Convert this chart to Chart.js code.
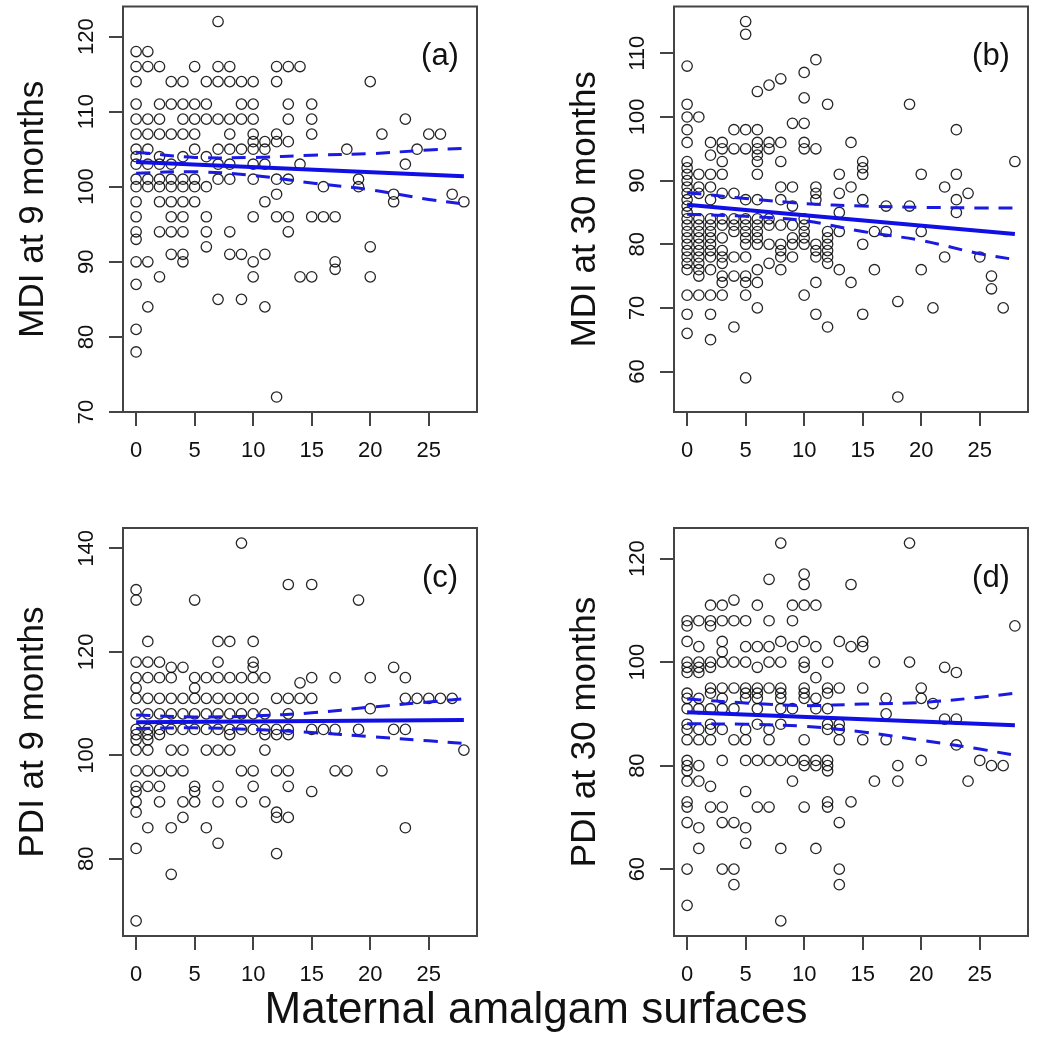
<!DOCTYPE html>
<html>
<head>
<meta charset="utf-8">
<title>Maternal amalgam surfaces vs MDI / PDI</title>
<script src="https://cdn.jsdelivr.net/npm/chart.js@4.4.0/dist/chart.umd.min.js"></script>
<style>
  body { margin: 0; background: #fff; width: 1042px; height: 1050px; position: relative; overflow: hidden; }
  canvas { position: absolute; }
  #xtitle {
    position: absolute; left: 536px; top: 986px; transform: translateX(-50%);
    font-family: 'Liberation Sans', Arial, sans-serif; font-size: 44px; line-height: 1;
    color: #111; white-space: nowrap;
  }
</style>
</head>
<body>
<canvas id="panelA" width="521" height="480" style="left:0;top:0"></canvas>
<canvas id="panelB" width="502" height="480" style="left:540px;top:0"></canvas>
<canvas id="panelC" width="521" height="490" style="left:0;top:500px"></canvas>
<canvas id="panelD" width="502" height="490" style="left:540px;top:500px"></canvas>
<div id="xtitle">Maternal amalgam surfaces</div>
<script>
// Données : [score, [surfaces amalgame ...]]
const mdi9Rows = [
    [122, [7]],
    [118, [0, 1]],
    [116, [0, 1, 2, 5, 7, 8, 12, 13, 14]],
    [114, [0, 3, 4, 6, 7, 8, 9, 10, 12, 20]],
    [111, [0, 2, 3, 4, 5, 6, 9, 10, 13, 15]],
    [109, [0, 1, 2, 4, 5, 6, 7, 8, 9, 10, 13, 15, 23]],
    [107, [0, 1, 2, 3, 4, 5, 8, 10, 12, 15, 21, 25, 26]],
    [106, [10, 11, 12, 13]],
    [105, [0, 1, 5, 7, 8, 9, 10, 11, 18, 24]],
    [104, [0, 2, 4, 6]],
    [103, [0, 1, 2, 3, 7, 8, 10, 11, 14, 23]],
    [101, [0, 1, 2, 3, 4, 5, 7, 8, 10, 12, 13, 19]],
    [100, [0, 1, 2, 3, 4, 5, 6, 16, 19]],
    [99, [12, 22, 27]],
    [98, [0, 2, 3, 4, 5, 11, 22, 28]],
    [96, [0, 3, 4, 6, 10, 12, 13, 15, 16, 17]],
    [94, [0, 2, 3, 4, 6, 8, 13]],
    [93, [0]],
    [92, [6, 20]],
    [91, [3, 4, 8, 9, 11]],
    [90, [0, 1, 4, 10, 17]],
    [89, [17]],
    [88, [2, 10, 14, 15, 20]],
    [87, [0]],
    [85, [7, 9]],
    [84, [1, 11]],
    [81, [0]],
    [78, [0]],
    [72, [12]]
];

const mdi30Rows = [
    [115, [5]],
    [113, [5]],
    [109, [11]],
    [108, [0]],
    [107, [10]],
    [106, [8]],
    [105, [7]],
    [104, [6]],
    [103, [10]],
    [102, [0, 12, 19]],
    [100, [0, 1]],
    [99, [9, 10]],
    [98, [0, 4, 5, 6, 23]],
    [96, [0, 2, 3, 6, 7, 8, 10, 14]],
    [95, [3, 4, 5, 6, 7, 10, 11]],
    [94, [2, 6]],
    [93, [0, 3, 6, 8, 15, 28]],
    [92, [0, 15]],
    [91, [0, 1, 2, 3, 6, 13, 15, 20, 23]],
    [90, [0]],
    [89, [0, 1, 2, 8, 9, 11, 14, 22]],
    [88, [0, 1, 3, 4, 11, 13, 24]],
    [87, [0, 2, 5, 6, 8, 11, 15, 23]],
    [86, [0, 9, 17, 19]],
    [85, [0, 13, 23]],
    [84, [0, 1, 2, 3, 4, 5, 6, 7, 10]],
    [83, [0, 1, 2, 3, 4, 5, 6, 7, 8, 9, 10]],
    [82, [0, 1, 2, 4, 5, 6, 10, 12, 13, 16, 17, 20]],
    [81, [0, 1, 2, 3, 5, 6, 9, 10, 12]],
    [80, [0, 1, 2, 5, 6, 7, 8, 9, 10, 11, 12, 15]],
    [79, [0, 1, 2, 3, 8, 11, 12]],
    [78, [0, 1, 2, 3, 4, 5, 8, 9, 11, 12, 22, 25]],
    [77, [0, 1, 3, 7, 12]],
    [76, [0, 1, 2, 6, 8, 13, 16, 20]],
    [75, [1, 3, 4, 5, 26]],
    [74, [3, 5, 6, 11, 14]],
    [73, [26]],
    [72, [0, 1, 2, 3, 5, 10]],
    [71, [18]],
    [70, [6, 21, 27]],
    [69, [0, 2, 11, 15]],
    [67, [4, 12]],
    [66, [0]],
    [65, [2]],
    [59, [5]],
    [56, [18]]
];

const pdi9Rows = [
    [141, [9]],
    [133, [13, 15]],
    [132, [0]],
    [130, [0, 5, 19]],
    [122, [1, 7, 8, 10]],
    [118, [0, 1, 2, 7, 10]],
    [117, [3, 4, 10, 22]],
    [115, [0, 1, 2, 3, 5, 6, 7, 8, 9, 10, 11, 15, 17, 20, 23]],
    [114, [14]],
    [113, [0, 5]],
    [111, [0, 1, 2, 3, 4, 5, 6, 7, 8, 9, 10, 12, 13, 14, 15, 23, 24, 25, 26, 27]],
    [109, [20]],
    [108, [0, 1, 2, 3, 4, 5, 6, 7, 8, 9, 10, 11, 13]],
    [105, [0, 1, 2, 3, 4, 5, 6, 7, 8, 9, 10, 11, 12, 13, 15, 16, 17, 19, 22, 23]],
    [104, [0, 1, 2, 8, 11, 12, 13]],
    [103, [0, 1]],
    [101, [0, 1, 3, 4, 6, 7, 8, 11, 28]],
    [97, [0, 1, 2, 3, 4, 9, 10, 12, 13, 17, 18, 21]],
    [94, [0, 1, 2, 5, 7, 10, 13]],
    [93, [0, 5, 15]],
    [91, [0, 2, 4, 5, 7, 9, 11]],
    [89, [0, 12]],
    [88, [4, 12, 13]],
    [86, [1, 3, 6, 23]],
    [83, [7]],
    [82, [0]],
    [81, [12]],
    [77, [3]],
    [68, [0]]
];

const pdi30Rows = [
    [123, [8, 19]],
    [117, [10]],
    [116, [7]],
    [115, [10, 14]],
    [112, [4]],
    [111, [2, 3, 6, 9, 10, 11]],
    [108, [0, 1, 2, 3, 4, 5, 7, 9]],
    [107, [0, 2, 28]],
    [104, [0, 3, 8, 10, 13, 15]],
    [103, [1, 5, 6, 7, 9, 11, 14, 15]],
    [102, [3]],
    [100, [0, 1, 2, 3, 4, 5, 7, 8, 10, 12, 16, 19]],
    [99, [0, 1, 2, 6, 10, 22]],
    [98, [0, 1, 23]],
    [97, [11]],
    [95, [2, 3, 4, 5, 6, 7, 8, 10, 12, 13, 15, 20]],
    [94, [0, 2, 5, 6, 8, 10, 12]],
    [93, [0, 1, 3, 5, 6, 8, 10, 11, 17, 20]],
    [92, [21]],
    [91, [0, 1, 2, 3, 4, 6, 8, 9, 11, 12]],
    [90, [17]],
    [89, [22, 23]],
    [88, [0, 2, 6, 8, 12, 13]],
    [87, [0, 1, 2, 3, 5, 7, 12, 13]],
    [85, [0, 1, 2, 4, 5, 7, 10, 13, 15, 17]],
    [84, [23]],
    [81, [0, 3, 5, 6, 7, 8, 9, 10, 11, 12, 20, 25]],
    [80, [0, 1, 10, 11, 12, 18, 26, 27]],
    [79, [0, 12]],
    [77, [0, 1, 9, 16, 18, 24]],
    [76, [2]],
    [75, [5]],
    [73, [0, 12, 14]],
    [72, [0, 2, 3, 6, 7, 10, 12]],
    [69, [0, 3, 4, 13]],
    [68, [1, 5]],
    [65, [5]],
    [64, [1, 8, 11]],
    [60, [0, 3, 4, 13]],
    [57, [4, 13]],
    [53, [0]],
    [50, [8]]
];

// Droites de régression (aux extrémités) et intervalles de confiance lus
const fitX = [0, 28];
const ciX = [0, 5, 10, 15, 20, 25, 28];

const mdi9Fit = [103.3, 101.4];
const mdi9Upper = [104.6, 103.9, 103.9, 104.2, 104.4, 104.9, 105.1];
const mdi9Lower = [101.8, 102.0, 101.5, 100.5, 99.6, 98.3, 97.7];

const mdi30Fit = [86.2, 81.6];
const mdi30Upper = [88.1, 87.2, 86.4, 86.0, 85.8, 85.7, 85.7];
const mdi30Lower = [84.7, 84.4, 83.7, 82.0, 80.6, 78.5, 77.6];

const pdi9Fit = [106.4, 106.8];
const pdi9Upper = [107.8, 107.4, 107.6, 108.2, 109.3, 110.3, 110.9];
const pdi9Lower = [105.2, 105.3, 105.0, 104.4, 103.6, 102.8, 102.3];

const pdi30Fit = [90.3, 87.8];
const pdi30Upper = [92.9, 92.1, 91.6, 91.9, 92.2, 93.2, 94.0];
const pdi30Lower = [88.1, 88.0, 87.6, 86.5, 84.9, 83.2, 82.0];

// Graduations
const xTicks = [0, 5, 10, 15, 20, 25];
const mdi9Ticks = [70, 80, 90, 100, 110, 120];
const mdi30Ticks = [60, 70, 80, 90, 100, 110];
const pdi9Ticks = [80, 100, 120, 140];
const pdi30Ticks = [60, 80, 100, 120];

const FONT = "'Liberation Sans', Arial, Helvetica, sans-serif";
Chart.defaults.font.family = FONT;

// Limites à la manière de R (étendue + 4 %)
function rLimits(values) {
    const lo = Math.min(...values), hi = Math.max(...values);
    const pad = (hi - lo) * 0.04;
    return [lo - pad, hi + pad];
}

function rowsToPoints(rows) {
    const pts = [];
    rows.forEach(([score, xs]) => xs.forEach(x => pts.push({ x: x, y: score })));
    return pts;
}

function pair(xs, ys) {
    return xs.map((x, i) => ({ x: x, y: ys[i] }));
}

// Cadre, étiquettes verticales de l'axe Y et lettre du panneau
const panelDecor = {
    id: 'panelDecor',
    afterDraw(chart, args, opts) {
        const { ctx, chartArea: a } = chart;
        const y = chart.scales.y;
        ctx.save();
        ctx.strokeStyle = '#444';
        ctx.lineWidth = 2;
        ctx.strokeRect(a.left, a.top, a.right - a.left, a.bottom - a.top);

        ctx.fillStyle = '#111';
        ctx.font = '22px ' + FONT;
        ctx.textAlign = 'center';
        ctx.textBaseline = 'middle';
        y.ticks.forEach(t => {
            const py = y.getPixelForValue(t.value);
            ctx.save();
            ctx.translate(a.left - 36, py);
            ctx.rotate(-Math.PI / 2);
            ctx.fillText(String(t.value), 0, 0);
            ctx.restore();
        });

        ctx.font = '31px ' + FONT;
        ctx.fillText(opts.tag, a.right - 37, a.top + 50);
        ctx.restore();
    }
};

function createPanel(canvasId, cfg) {
    const ctx = document.getElementById(canvasId).getContext('2d');
    const pts = rowsToPoints(cfg.rows);
    const xLim = rLimits(pts.map(p => p.x));
    const yLim = rLimits(pts.map(p => p.y));

    return new Chart(ctx, {
        type: 'scatter',
        data: {
            datasets: [
                {
                    label: 'fit',
                    data: pair(fitX, cfg.fit),
                    showLine: true,
                    borderColor: '#1010e6',
                    borderWidth: 4,
                    pointRadius: 0,
                    order: 0
                },
                {
                    label: 'upper',
                    data: pair(ciX, cfg.upper),
                    showLine: true,
                    borderColor: '#1a1ae0',
                    borderWidth: 3,
                    borderDash: [14, 10],
                    tension: 0.35,
                    pointRadius: 0,
                    order: 1
                },
                {
                    label: 'lower',
                    data: pair(ciX, cfg.lower),
                    showLine: true,
                    borderColor: '#1a1ae0',
                    borderWidth: 3,
                    borderDash: [14, 10],
                    tension: 0.35,
                    pointRadius: 0,
                    order: 1
                },
                {
                    label: 'obs',
                    data: pts,
                    pointStyle: 'circle',
                    pointRadius: 5.2,
                    pointBorderWidth: 1.3,
                    pointBorderColor: 'rgba(0, 0, 0, 0.85)',
                    pointBackgroundColor: 'rgba(0, 0, 0, 0)',
                    order: 2
                }
            ]
        },
        options: {
            responsive: false,
            devicePixelRatio: 1,
            animation: false,
            events: [],
            layout: { padding: cfg.padding },
            plugins: {
                legend: { display: false },
                tooltip: { enabled: false },
                panelDecor: { tag: cfg.tag }
            },
            scales: {
                x: {
                    type: 'linear',
                    min: xLim[0],
                    max: xLim[1],
                    afterBuildTicks: s => { s.ticks = xTicks.map(v => ({ value: v })); },
                    afterFit: s => { s.height = cfg.xAxisHeight; },
                    border: { display: false },
                    grid: { display: true, drawOnChartArea: false, drawTicks: true, tickLength: 14, color: '#444', lineWidth: 2 },
                    ticks: { font: { size: 22 }, color: '#111', padding: 12, maxRotation: 0, autoSkip: false }
                },
                y: {
                    type: 'linear',
                    min: yLim[0],
                    max: yLim[1],
                    afterBuildTicks: s => { s.ticks = cfg.yTicks.map(v => ({ value: v })); },
                    afterFit: s => { s.width = cfg.yAxisWidth; },
                    border: { display: false },
                    grid: { display: true, drawOnChartArea: false, drawTicks: true, tickLength: 14, color: '#444', lineWidth: 2 },
                    ticks: { display: false },
                    title: {
                        display: true,
                        text: cfg.title,
                        color: '#111',
                        font: { size: 35 },
                        padding: { top: cfg.titleOffset, bottom: 0 }
                    }
                }
            }
        },
        plugins: [panelDecor]
    });
}

createPanel('panelA', {
    rows: mdi9Rows, fit: mdi9Fit, upper: mdi9Upper, lower: mdi9Lower, yTicks: mdi9Ticks,
    title: 'MDI at 9 months', tag: '(a)',
    padding: { left: 0, right: 44, top: 3, bottom: 0 }, xAxisHeight: 68, yAxisWidth: 123, titleOffset: 12
});
createPanel('panelB', {
    rows: mdi30Rows, fit: mdi30Fit, upper: mdi30Upper, lower: mdi30Lower, yTicks: mdi30Ticks,
    title: 'MDI at 30 months', tag: '(b)',
    padding: { left: 0, right: 14, top: 3, bottom: 0 }, xAxisHeight: 68, yAxisWidth: 134, titleOffset: 24
});
createPanel('panelC', {
    rows: pdi9Rows, fit: pdi9Fit, upper: pdi9Upper, lower: pdi9Lower, yTicks: pdi9Ticks,
    title: 'PDI at 9 months', tag: '(c)',
    padding: { left: 0, right: 44, top: 28, bottom: 0 }, xAxisHeight: 54, yAxisWidth: 123, titleOffset: 12
});
createPanel('panelD', {
    rows: pdi30Rows, fit: pdi30Fit, upper: pdi30Upper, lower: pdi30Lower, yTicks: pdi30Ticks,
    title: 'PDI at 30 months', tag: '(d)',
    padding: { left: 0, right: 14, top: 28, bottom: 0 }, xAxisHeight: 54, yAxisWidth: 134, titleOffset: 24
});
</script>
</body>
</html>
